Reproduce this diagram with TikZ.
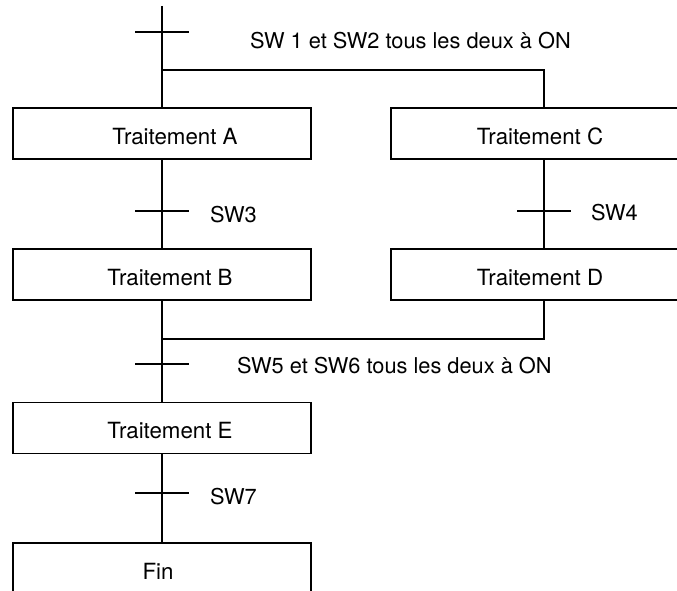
\documentclass[tikz,border=0pt]{standalone}
\usepackage{fontspec}
\setmainfont{TeX Gyre Heros}
\usetikzlibrary{calc}

\tikzset{
  etape/.style={draw, line width=1.1pt, minimum width=298pt, minimum height=51pt,
    inner sep=0pt, text height=21pt, text depth=0pt, font=\fontsize{22.3}{26}\selectfont},
  recep/.style={anchor=base west, inner sep=0pt, font=\fontsize{21.8}{26}\selectfont},
  lien/.style={line width=1.1pt},
}

\begin{document}
\begin{tikzpicture}[x=1pt, y=-1pt]
	%%%%% START %%%%%
	\useasboundingbox (0,0) rectangle (677,591);
	\clip (0,0) rectangle (677,591);

	% etapes
	\node[etape] (A) at (162,133.5) {\hspace*{26pt}Traitement A};
	\node[etape] (B) at (162,274.5) {\hspace*{16pt}Traitement B};
	\node[etape] (C) at (540,133.5) {Traitement C};
	\node[etape] (D) at (540,274.5) {Traitement D};
	\node[etape] (E) at (162,428) {\hspace*{16pt}Traitement E};
	\node[etape] (fin) at (162,568.5) {\hspace*{-8pt}Fin};

	% divergence / convergence
	\coordinate (depart) at (162,6);
	\coordinate (ouvL) at (162,70);
	\coordinate (ouvR) at (544,70);
	\coordinate (fermL) at (162,339);
	\coordinate (fermR) at (544,339);

	% transitions
	\coordinate (t1) at (162,32);
	\coordinate (t3) at (162,211);
	\coordinate (t4) at (544,211);
	\coordinate (t56) at (162,364);
	\coordinate (t7) at (162,493);

	\draw[lien] (depart) -- (A.north);
	\draw[lien] (ouvL) -- (ouvR) -- (ouvR |- C.north);
	\draw[lien] (A.south) -- (B.north);
	\draw[lien] (ouvR |- C.south) -- (ouvR |- D.north);
	\draw[lien] (B.south) -- (E.north);
	\draw[lien] (ouvR |- D.south) -- (fermR) -- (fermL);
	\draw[lien] (E.south) -- (fin.north);

	\foreach \t in {t1,t3,t4,t56,t7}
		\draw[lien] ([xshift=-27pt]\t) -- ([xshift=27pt]\t);

	% receptivites
	\node[recep] (r1) at (250,49) {SW 1 et SW2 tous les deux à ON};
	\node[recep] (r3) at (210,222) {SW3};
	\node[recep] (r4) at (591,220) {SW4};
	\node[recep] (r56) at (237,373) {SW5 et SW6 tous les deux à ON};
	\node[recep] (r7) at (210,504) {SW7};
	%%%%% END %%%%%
\end{tikzpicture}
\end{document}
